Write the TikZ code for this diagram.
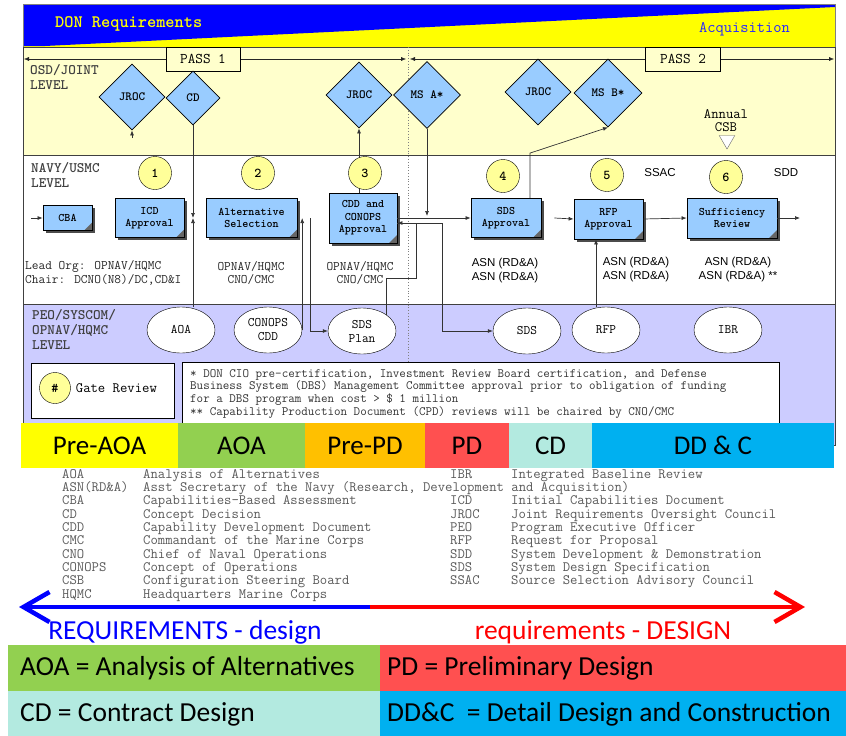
\documentclass[tikz,border=0pt]{standalone}
\usepackage{fontspec}
\setmainfont{Carlito}
\newfontfamily\arialfont{Liberation Sans}
\usetikzlibrary{positioning, shapes.geometric, arrows.meta, shadows}
\definecolor{donblue}{HTML}{0000FF}
\definecolor{osdyellow}{HTML}{FFFFCC}
\definecolor{peolav}{HTML}{CCCCFF}
\definecolor{boxblue}{HTML}{99CCFF}
\definecolor{gateyellow}{HTML}{FFFF99}
\definecolor{preaoa}{HTML}{FFFF00}
\definecolor{aoagreen}{HTML}{92D050}
\definecolor{prepd}{HTML}{FFC000}
\definecolor{pdred}{HTML}{FF5050}
\definecolor{cdcyan}{HTML}{B3EAE0}
\definecolor{ddblue}{HTML}{00B0F0}
\begin{document}
\begin{tikzpicture}[x=1pt, y=-1pt, >={Latex[length=5pt, width=4pt]},
    level/.style={anchor=north west, align=left, inner sep=0pt, text=black!75,
        font=\ttfamily\bfseries\fontsize{14.5}{15}\selectfont},
    decision/.style={diamond, draw, thick, fill=boxblue, inner sep=0pt,
        font=\ttfamily\bfseries\fontsize{12.5}{13}\selectfont},
    gate/.style={circle, draw, fill=gateyellow, minimum size=33pt, inner sep=0pt,
        font=\ttfamily\bfseries\fontsize{13.5}{13.5}\selectfont},
    docbox/.style={draw, thick, fill=boxblue, align=center, inner sep=0pt,
        font=\ttfamily\bfseries\fontsize{11.5}{12.5}\selectfont,
        drop shadow={shadow xshift=2.5pt, shadow yshift=-2.5pt, fill=black!70, opacity=1},
        path picture={\fill[black!60] ([xshift=-8pt]path picture bounding box.south east)
            -- ([yshift=8pt]path picture bounding box.south east)
            -- (path picture bounding box.south east) -- cycle;}},
    product/.style={ellipse, draw, fill=white, minimum width=68pt, minimum height=46pt,
        inner sep=0pt, align=center, font=\ttfamily\fontsize{13}{14}\selectfont},
    org/.style={align=center, inner sep=0pt, text=black!85,
        font=\ttfamily\fontsize{13}{13.5}\selectfont},
    asn/.style={align=center, inner sep=0pt, font=\arialfont\fontsize{11.5}{14}\selectfont},
    link/.style={->, black!80, line width=0.7pt},
    gloss/.style={anchor=base west, inner sep=0pt, text=black!65,
        font=\ttfamily\fontsize{14.3}{14}\selectfont},
    phase/.style={minimum height=45pt, inner sep=0pt, font=\fontsize{27}{30}\selectfont},
    defn/.style={anchor=west, inner sep=0pt, font=\fontsize{27.5}{30}\selectfont}]
    \useasboundingbox (0,0) rectangle (846,736);

    \fill[preaoa] (23,4) rectangle (835,47);
    \fill[donblue] (23,4) -- (835,4) -- (835,7) -- (45,46) -- (23,46) -- cycle;
    \draw[gray] (23,4) rectangle (835,47);
    \node[anchor=west, inner sep=0pt, text=preaoa, font=\ttfamily\bfseries\fontsize{17.5}{18}\selectfont] (donreq) at (55,24) {DON Requirements};
    \node[anchor=west, inner sep=0pt, text=blue!85!white, font=\ttfamily\fontsize{16}{16}\selectfont] (acq) at (699,29) {Acquisition};

    \fill[osdyellow] (23,47) rectangle (835,155);
    \fill[peolav] (23,304) rectangle (835,445);
    \draw[black!75] (23,47) rectangle (835,445);
    \draw[black!75] (23,155) -- (835,155);
    \draw[black!75] (23,304) -- (835,304);
    \draw[dotted, thick, gray] (408,47) -- (408,362);

    \coordinate (p1a) at (24,59);
    \coordinate (p1b) at (406,59);
    \coordinate (p2a) at (410,59);
    \coordinate (p2b) at (834,59);
    \draw[<->, black!85] (p1a) -- (p1b);
    \draw[<->, black!85] (p2a) -- (p2b);
    \node[draw, fill=osdyellow, minimum width=74pt, minimum height=24pt, font=\ttfamily\fontsize{14.8}{15}\selectfont] (pass1) at (203,59) {PASS 1};
    \node[draw, fill=osdyellow, minimum width=75pt, minimum height=24pt, font=\ttfamily\fontsize{14.8}{15}\selectfont] (pass2) at (683,59) {PASS 2};

    \node[level] (osdlevel) at (30,64) {OSD/JOINT\\LEVEL};
    \node[level] (navylevel) at (31,162) {NAVY/USMC\\LEVEL};
    \node[level] (peolevel) at (32,309) {PEO/SYSCOM/\\OPNAV/HQMC\\LEVEL};

    \node[decision, minimum size=66pt] (jroca) at (132,97) {JROC};
    \node[decision, minimum size=54pt] (cd) at (193,98) {CD};
    \node[decision, minimum size=66pt] (jrocb) at (359,95) {JROC};
    \node[decision, minimum size=67pt] (msa) at (427,95) {MS A*};
    \node[decision, minimum size=66pt] (jrocc) at (538,92) {JROC};
    \node[decision, minimum size=68pt] (msb) at (608,93) {MS B*};

    \node[align=center, inner sep=0pt, font=\ttfamily\fontsize{14.3}{13}\selectfont] (annual) at (726,121) {Annual\\CSB};
    \node[regular polygon, regular polygon sides=3, shape border rotate=180, draw=black!60, fill=white, minimum size=18pt, inner sep=0pt] (csb) at (727,140) {};

    \node[docbox, minimum width=49pt, minimum height=25pt] (cba) at (67.5,218) {CBA};
    \node[docbox, minimum width=69pt, minimum height=39pt] (icd) at (149.5,218) {ICD\\Approval};
    \node[docbox, minimum width=91pt, minimum height=39pt] (alt) at (251.5,218) {Alternative\\Selection};
    \node[docbox, minimum width=68pt, minimum height=50pt] (cdd) at (363,218) {CDD and\\CONOPS\\Approval};
    \node[docbox, minimum width=70pt, minimum height=39pt] (sdsa) at (506,218) {SDS\\Approval};
    \node[docbox, minimum width=69pt, minimum height=40pt] (rfpa) at (608.5,219) {RFP\\Approval};
    \node[docbox, minimum width=90pt, minimum height=40pt] (suff) at (732,218) {Sufficiency\\Review};

    \node[org, anchor=west, align=left] (icdorg) at (25,273) {Lead Org: OPNAV/HQMC\\Chair: DCNO(N8)/DC,CD\&I};
    \node[org] (altorg) at (251,273) {OPNAV/HQMC\\CNO/CMC};
    \node[org] (cddorg) at (360,273) {OPNAV/HQMC\\CNO/CMC};
    \node[asn] (sdsasn) at (505,271) {ASN (RD\&A)\\ASN (RD\&A)};
    \node[asn] (rfpasn) at (636,270) {ASN (RD\&A)\\ASN (RD\&A)};
    \node[asn] (suffasn) at (738,270) {ASN (RD\&A)\\ASN (RD\&A) **};
    \node[asn] (ssac) at (660,173) {SSAC};
    \node[asn] (sdd) at (786,173) {SDD};

    \node[product] (aoa) at (181,330) {AOA};
    \node[product] (conops) at (268,330) {CONOPS\\CDD};
    \node[product] (sdsplan) at (362,331) {SDS\\Plan};
    \node[product] (sds) at (527,331) {SDS};
    \node[product] (rfp) at (606,330) {RFP};
    \node[product] (ibr) at (728,330) {IBR};

    \node[draw, fill=white, minimum width=143pt, minimum height=55pt, inner sep=0pt] (legend) at (102.5,390.5) {};
    \node[gate, minimum size=31pt] (gatekey) at (55,388) {\#};
    \node[right=5pt of gatekey, inner sep=0pt, font=\ttfamily\fontsize{14.3}{14}\selectfont] (gatetext) {Gate Review};
    \node[draw, fill=white, anchor=north west, minimum width=597pt, minimum height=75pt, inner sep=0pt] (notebox) at (182,362) {};
    \node[anchor=north west, align=left, inner sep=0pt, text=black!80, font=\ttfamily\fontsize{12.7}{12.7}\selectfont] (notes) at (190,369)
        {* DON CIO pre-certification, Investment Review Board certification, and Defense\\
         Business System (DBS) Management Committee approval prior to obligation of funding\\
         for a DBS program when cost > \$ 1 million\\
         ** Capability Production Document (CPD) reviews will be chaired by CNO/CMC};

    \coordinate (cbain) at (31,218);
    \coordinate (jrocastub) at (132,138);
    \coordinate (cdmid) at (193,218);
    \coordinate (msadrop) at (427,216);
    \coordinate (planfeed) at (310,218);
    \coordinate (suffout) at (800,218);
    \draw[link] (cbain) -- (cba);
    \draw[link] (jrocastub) -- (jroca.south);
    \draw[link] (cd.south) -- (cdmid);
    \draw[link] (cdmid |- aoa.north) -- (cdmid);
    \draw[link] (jrocb.south |- cdd.north) -- (jrocb.south);
    \draw[link] (msa.south) -- (msadrop);
    \draw[link] (cdd.east) -- (sdsa.west);
    \draw[link] (sdsplan.north east) -- ++(0,-36) -- ++(30,0) |- ([yshift=-5pt]cdd.east);
    \draw[link] ([yshift=-5pt]cdd.east) -- ++(45,0) |- (sds.west);
    \draw[link] ([xshift=24pt]sdsa.north) -- ++(0,-45) -- (msb.south);
    \draw[link] ([xshift=-10pt]rfp.north) -- ([xshift=-10pt]rfp.north |- rfpa.south);
    \draw[link] (conops.east) -- (conops.east |- alt.east);
    \draw[link] (planfeed) |- (sdsplan.west);
    \draw[link] ([xshift=13pt]sdsa.east) -- (rfpa.west);
    \draw[link] (rfpa.east) -- (suff.west);
    \draw[link] (suff.east) -- (suffout);

    \node[gate] (g1) at (155,173) {1};
    \node[gate] (g2) at (258,173) {2};
    \node[gate] (g3) at (365,173) {3};
    \node[gate] (g4) at (503,176) {4};
    \node[gate] (g5) at (607,175) {5};
    \node[gate] (g6) at (726,177) {6};

    \foreach \lbl/\cx/\w/\col [count=\i] in {Pre-AOA/99.5/157/preaoa, AOA/241.5/127/aoagreen,
        Pre-PD/365/120/prepd, PD/467/84/pdred, CD/550.5/83/cdcyan, DD \& C/713/242/ddblue}
        \node[phase, fill=\col, minimum width=\w pt] (phase\i) at (\cx,445.5) {\lbl};

    \foreach \abbr/\desc [count=\i from 0] in {AOA/Analysis of Alternatives,
        ASN(RD\&A)/{Asst Secretary of the Navy (Research, Development and Acquisition)},
        CBA/Capabilities-Based Assessment, CD/Concept Decision,
        CDD/Capability Development Document, CMC/Commandant of the Marine Corps,
        CNO/Chief of Naval Operations, CONOPS/Concept of Operations,
        CSB/Configuration Steering Board, HQMC/Headquarters Marine Corps}{
        \node[gloss] (gla\i) at (62,{478+13.35*\i}) {\abbr};
        \node[gloss] (gld\i) at (143,{478+13.35*\i}) {\desc};
    }
    \foreach \abbr/\desc/\row in {IBR/Integrated Baseline Review/0,
        ICD/Initial Capabilities Document/2, JROC/Joint Requirements Oversight Council/3,
        PEO/Program Executive Officer/4, RFP/Request for Proposal/5,
        SDD/System Development \& Demonstration/6, SDS/System Design Specification/7,
        SSAC/Source Selection Advisory Council/8}{
        \node[gloss] (gra\row) at (450,{478+13.35*\row}) {\abbr};
        \node[gloss] (grd\row) at (511,{478+13.35*\row}) {\desc};
    }

    \coordinate (split) at (370,607);
    \coordinate (reqend) at (19,607);
    \coordinate (desend) at (805,607);
    \draw[blue, line width=4.5pt, -{Straight Barb[length=26pt, width=30pt]}] (split) -- (reqend);
    \draw[red, line width=4.5pt, -{Straight Barb[length=26pt, width=30pt]}] (split) -- (desend);
    \node[text=blue, inner sep=0pt, font=\fontsize{27.5}{30}\selectfont] (reqdesign) at (185,632) {REQUIREMENTS - design};
    \node[text=red, inner sep=0pt, font=\fontsize{27.5}{30}\selectfont] (designreq) at (603,632) {requirements - DESIGN};

    \fill[aoagreen] (8,645) rectangle (380,691);
    \fill[pdred] (380,645) rectangle (846,691);
    \fill[cdcyan] (8,691) rectangle (380,736);
    \fill[ddblue] (380,691) rectangle (846,736);
    \node[defn] (aoadef) at (20,668) {AOA = Analysis of Alternatives};
    \node[defn] (pddef) at (387,668) {PD = Preliminary Design};
    \node[defn] (cddef) at (20,714) {CD = Contract Design};
    \node[defn] (dddef) at (387,714) {DD\&C\ \ = Detail Design and Construction};
\end{tikzpicture}
\end{document}
